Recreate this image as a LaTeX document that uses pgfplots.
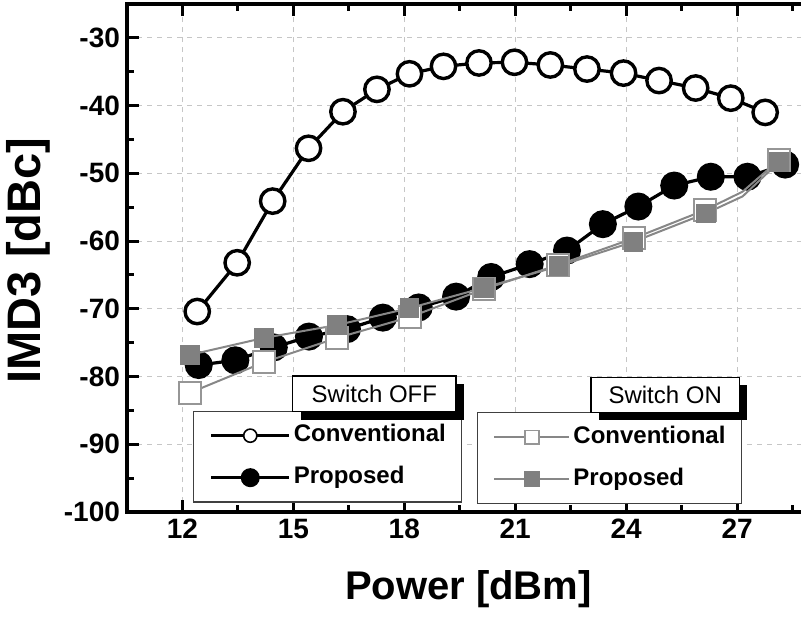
\documentclass[border=0pt]{standalone}
\usepackage{pgfplots}
\pgfplotsset{compat=1.18}
\usepackage{fontspec}
\setmainfont{Liberation Sans}

\definecolor{lngray}{RGB}{135,135,135}
\definecolor{sqgray}{RGB}{128,128,128}
\definecolor{edgegray}{RGB}{150,150,150}

\pgfplotsset{
  imdbase/.style={
    scale only axis, width=351.25pt, height=254pt,
    xmin=10.5, xmax=29.5, ymin=-100, ymax=-25,
  },
  legbase/.style={
    anchor=north west, draw=black!75, line width=0.6pt,
    font=\fontsize{12}{14}\selectfont\bfseries,
    inner xsep=8pt, inner ysep=6.2pt, row sep=9pt, column sep=1.5pt,
    nodes={inner sep=0pt, text height=9pt, text depth=3pt},
  },
}

\begin{document}
\begin{tikzpicture}

% Switch OFF
\begin{axis}[imdbase,
  xtick={12,15,...,27}, minor xtick={13.5,16.5,...,28.5},
  ytick={-100,-90,...,-30}, minor ytick={-95,-85,...,-25},
  tick align=inside,
  major tick length=6pt, minor tick length=3.5pt,
  every tick/.style={black, line width=1.5pt},
  axis line style={line width=2.2pt},
  grid=major,
  major grid style={gray!45, line width=0.5pt, dash pattern=on 2.5pt off 2.5pt},
  /pgf/number format/assume math mode=true,
  tick label style={font=\fontsize{14}{16}\selectfont\bfseries},
  xlabel={Power [dBm]}, ylabel={IMD3 [dBc]},
  xlabel style={font=\fontsize{20}{24}\selectfont\bfseries, at={(ticklabel cs:0.486)}, yshift=-9pt},
  ylabel style={font=\fontsize{23.5}{28}\selectfont\bfseries, at={(ticklabel cs:0.495)}},
  legend image code/.code={\draw[mark repeat=2,mark phase=2,#1] plot coordinates {(0pt,0pt) (19.5pt,0pt) (39pt,0pt)};},
  legend style={legbase, at={(0.0942,0.1995)}},
  legend cell align=left,
]
\addlegendimage{black, line width=1.5pt, mark=*, mark size=3.3pt, mark options={fill=white, line width=0.8pt}}
\addlegendentry{Conventional}
\addlegendimage{black, line width=1.5pt, mark=*, mark size=4pt}
\addlegendentry{Proposed}

\addplot[black, line width=1.6pt, mark=*, mark size=6.1pt,
  mark options={fill=white, line width=1.7pt}, forget plot] coordinates {
  (12.40,-70.4) (13.48,-63.2) (14.44,-54.1) (15.41,-46.3) (16.34,-40.9)
  (17.26,-37.6) (18.14,-35.3) (19.06,-34.2) (20.02,-33.7) (20.98,-33.6)
  (21.95,-34.0) (22.94,-34.6) (23.93,-35.2) (24.89,-36.3) (25.88,-37.4)
  (26.83,-38.9) (27.76,-41.0)
};
\addplot[black, line width=1.6pt, mark=*, mark size=6.2pt, forget plot] coordinates {
  (12.44,-78.3) (13.43,-77.6) (14.47,-75.7) (15.42,-74.1) (16.45,-73.0)
  (17.42,-71.3) (18.39,-69.8) (19.40,-68.2) (20.35,-65.3) (21.39,-63.4)
  (22.40,-61.4) (23.37,-57.5) (24.33,-54.9) (25.30,-51.8) (26.29,-50.5)
  (27.28,-50.5) (28.30,-48.7)
};
\end{axis}

% Switch ON
\begin{axis}[imdbase, hide axis,
  legend image code/.code={\draw[mark repeat=2,mark phase=2,#1] plot coordinates {(0pt,0pt) (18.75pt,0pt) (37.5pt,0pt)};},
  legend style={legbase, at={(0.498,0.1964)}},
  legend cell align=left,
]
\addlegendimage{lngray, line width=1pt, mark=square*, mark size=3.4pt, mark options={draw=edgegray, fill=white, line width=0.8pt}}
\addlegendentry{Conventional}
\addlegendimage{lngray, line width=1pt, mark=square*, mark size=3.6pt, mark options={draw=sqgray, fill=sqgray}}
\addlegendentry{Proposed}

\addplot[lngray, line width=1pt, mark=square*, mark size=5.5pt,
  mark indices={1,2,3,4,5,6,7,8,10},
  mark options={draw=edgegray, fill=white, line width=1pt}, forget plot] coordinates {
  (12.20,-82.4) (14.20,-77.9) (16.18,-74.3) (18.16,-71.2) (20.15,-67.1)
  (22.17,-63.5) (24.20,-59.6) (26.14,-55.4) (27.15,-52.7) (28.14,-48.0)
};
\addplot[lngray, line width=1pt, mark=square*, mark size=4.6pt,
  mark indices={1,2,3,4,5,6,7,8,10},
  mark options={draw=sqgray, fill=sqgray, line width=0.6pt}, forget plot] coordinates {
  (12.20,-76.8) (14.20,-74.3) (16.18,-72.4) (18.14,-69.9) (20.15,-66.9)
  (22.17,-63.7) (24.20,-60.1) (26.16,-55.9) (27.15,-53.4) (28.14,-48.3)
};
\end{axis}

% legend titles with shadow
\fill[black] (86.9pt,46.2pt) rectangle (168.5pt,64pt);
\filldraw[fill=white, draw=black, line width=0.6pt] (82.9pt,50.2pt) rectangle (164.5pt,68pt);
\node[font=\fontsize{12}{14}\selectfont] at (123.7pt,59.1pt) {Switch OFF};
\fill[black] (236pt,45.9pt) rectangle (310.2pt,63.4pt);
\filldraw[fill=white, draw=black, line width=0.6pt] (232pt,49.9pt) rectangle (306.2pt,67.4pt);
\node[font=\fontsize{12}{14}\selectfont] at (269.1pt,58.65pt) {Switch ON};

\pgfresetboundingbox
\useasboundingbox (-63.5pt,-55.5pt) rectangle (337pt,256pt);
\end{tikzpicture}
\end{document}
